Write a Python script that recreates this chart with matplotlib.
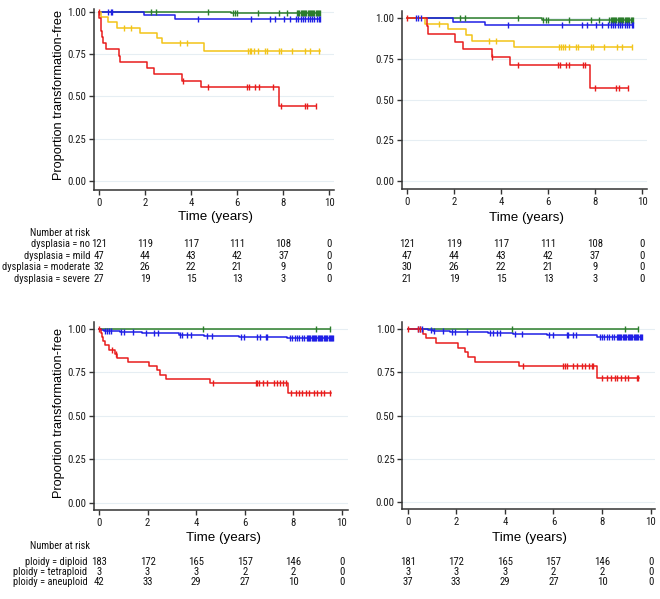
import numpy as np
import matplotlib
matplotlib.use("Agg")
import matplotlib.pyplot as plt
from matplotlib.transforms import blended_transform_factory
from matplotlib import font_manager
from matplotlib.font_manager import FontProperties

W, H = 660, 599
REG = ['Liberation Sans', 'DejaVu Sans']

# ---------------- data ----------------
risk_times = [0, 2, 4, 6, 8, 10]

# dysplasia, full cohort (top-left)
tl_no_ev = [5.75]; tl_no_s = [0.992]
tl_no_c = [2.24, 2.46, 4.73, 5.8, 5.9, 6.0, 6.9, 7.8, 8.18, 8.6, 8.65, 8.7, 8.75, 8.8, 8.85, 8.9,
           8.95, 9.0, 9.05, 9.1, 9.15, 9.2, 9.25, 9.3, 9.35, 9.4, 9.45, 9.5, 9.55, 9.6]
tl_no_end = 9.6
tl_mild_ev = [1.95, 3.3]; tl_mild_s = [0.979, 0.957]
tl_mild_c = [0.39, 0.5, 0.58, 4.31, 6.58, 7.42, 7.64, 8.03, 8.3, 8.55, 8.65, 8.75, 8.85, 8.95,
             9.05, 9.15, 9.25, 9.35, 9.45, 9.55, 9.6]
tl_mild_end = 9.6
tl_mod_ev = [0.1, 0.39, 0.77, 1.77, 2.5, 2.75, 4.56]
tl_mod_s = [0.969, 0.938, 0.906, 0.875, 0.844, 0.8125, 0.77]
tl_mod_c = [1.09, 1.4, 3.52, 3.83, 6.47, 6.54, 6.61, 6.73, 6.9, 7.19, 7.28, 7.81, 7.91, 8.39,
            8.93, 9.15, 9.55]
tl_mod_end = 9.58
tl_sev_ev = [0.01, 0.07, 0.1, 0.14, 0.19, 0.29, 0.87, 0.91, 2.07, 2.39, 3.62, 4.44, 7.81]
tl_sev_s = [0.963, 0.926, 0.889, 0.852, 0.815, 0.778, 0.741, 0.704, 0.667, 0.630, 0.593, 0.556, 0.444]
tl_sev_c = [0.0, 3.66, 4.75, 6.44, 6.51, 6.76, 6.96, 7.55, 7.92, 8.93, 9.02, 9.41]
tl_sev_end = 9.41

# dysplasia, subset (top-right)
tr_no_ev = [5.75]; tr_no_s = [0.992]
tr_no_c = tl_no_c
tr_no_end = 9.6
tr_mild_ev = [1.95, 3.3]; tr_mild_s = [0.979, 0.957]
tr_mild_c = [0.38, 0.48, 0.58, 4.31, 6.58, 7.42, 7.64, 8.03, 8.3, 8.55, 8.65, 8.75, 8.85, 8.95,
             9.05, 9.15, 9.25, 9.35, 9.45, 9.55, 9.6]
tr_mild_end = 9.6
tr_mod_ev = [0.76, 1.76, 2.5, 2.75, 4.53]
tr_mod_s = [0.967, 0.933, 0.9, 0.862, 0.821]
tr_mod_c = [1.37, 3.5, 3.77, 6.47, 6.54, 6.61, 6.73, 6.9, 7.19, 7.28, 7.81, 7.91, 8.39, 8.93,
            9.15, 9.55]
tr_mod_end = 9.55
tr_sev_ev = [0.85, 0.9, 2.05, 2.37, 3.6, 4.39, 7.78]
tr_sev_s = [0.952, 0.905, 0.857, 0.810, 0.762, 0.714, 0.571]
tr_sev_c = [0.0, 3.61, 4.7, 6.43, 6.5, 6.74, 6.9, 7.49, 7.56, 7.99, 8.9, 9.0, 9.38]
tr_sev_end = 9.38

# ploidy, full cohort (bottom-left)
bl_dip_ev = [0.08, 0.2, 0.85, 1.78, 3.29, 4.32, 5.76, 7.75]
bl_dip_s = [0.995, 0.989, 0.984, 0.976, 0.968, 0.96, 0.952, 0.946]
bl_dip_c = [0.25, 0.32, 0.41, 0.48, 0.92, 1.03, 1.41, 1.92, 2.26, 2.44, 3.33, 3.43, 3.64, 3.77,
            4.43, 4.66, 5.83, 5.97, 6.52, 6.61, 6.86, 6.93, 7.85, 7.95, 8.05, 8.15, 8.25, 8.35,
            8.45, 8.55, 8.6, 8.65, 8.7, 8.75, 8.8, 8.85, 8.9, 8.95, 9.0, 9.05, 9.1, 9.15, 9.2,
            9.25, 9.3, 9.35, 9.4, 9.45, 9.5, 9.55, 9.6, 9.65]
bl_dip_end = 9.65
bl_tet_ev = []; bl_tet_s = []
bl_tet_c = [4.28, 8.95, 9.5]
bl_tet_end = 9.5
bl_ane_ev = [0.07, 0.14, 0.16, 0.25, 0.41, 0.64, 0.75, 1.2, 2.06, 2.37, 2.5, 2.74, 4.57, 7.78]
bl_ane_s = [0.976, 0.952, 0.929, 0.905, 0.881, 0.857, 0.833, 0.810, 0.786, 0.762, 0.738, 0.714,
            0.690, 0.633]
bl_ane_c = [0.0, 0.55, 0.7, 4.7, 6.45, 6.52, 6.58, 6.75, 6.93, 7.2, 7.31, 7.47, 7.57, 7.68,
            7.89, 8.1, 8.23, 8.37, 8.53, 8.64, 8.85, 8.96, 9.12, 9.26, 9.5]
bl_ane_end = 9.55

# ploidy, subset (bottom-right)
br_dip_ev = [0.85, 1.06, 1.74, 3.32, 4.35, 5.72, 7.78]
br_dip_s = [0.994, 0.989, 0.983, 0.977, 0.972, 0.966, 0.956]
br_dip_c = [0.44, 0.51, 0.58, 0.95, 1.1, 1.44, 1.81, 1.95, 2.43, 3.4, 3.53, 3.66, 3.8, 4.42,
            4.69, 5.83, 5.97, 6.54, 6.61, 6.82, 6.93, 7.9, 8.0, 8.1, 8.2, 8.3, 8.4, 8.5, 8.6,
            8.65, 8.7, 8.75, 8.8, 8.85, 8.9, 8.95, 9.0, 9.05, 9.1, 9.15, 9.2, 9.25, 9.3, 9.35,
            9.4, 9.45, 9.5, 9.55, 9.6, 9.63]
br_dip_end = 9.63
br_tet_ev = []; br_tet_s = []
br_tet_c = [4.28, 8.94, 9.49]
br_tet_end = 9.49
br_ane_ev = [0.64, 0.74, 1.15, 2.09, 2.36, 2.5, 2.77, 4.58, 7.8]
br_ane_s = [0.973, 0.946, 0.919, 0.892, 0.865, 0.838, 0.811, 0.784, 0.715]
br_ane_c = [0.03, 0.44, 0.5, 4.73, 6.4, 6.47, 6.54, 6.79, 6.95, 7.16, 7.3, 7.46, 7.57, 7.64,
            7.98, 8.19, 8.35, 8.53, 8.6, 8.78, 8.94, 9.08, 9.42, 9.5]
br_ane_end = 9.53

# numbers at risk
dys_labels = ['dysplasia = no', 'dysplasia = mild', 'dysplasia = moderate', 'dysplasia = severe']
tl_risk = [[121, 119, 117, 111, 108, 0],
           [47, 44, 43, 42, 37, 0],
           [32, 26, 22, 21, 9, 0],
           [27, 19, 15, 13, 3, 0]]
tr_risk = [[121, 119, 117, 111, 108, 0],
           [47, 44, 43, 42, 37, 0],
           [30, 26, 22, 21, 9, 0],
           [21, 19, 15, 13, 3, 0]]
plo_labels = ['ploidy = diploid', 'ploidy = tetraploid', 'ploidy = aneuploid']
bl_risk = [[183, 172, 165, 157, 146, 0],
           [3, 3, 3, 2, 2, 0],
           [42, 33, 29, 27, 10, 0]]
br_risk = [[181, 172, 165, 157, 146, 0],
           [3, 3, 3, 2, 2, 0],
           [37, 33, 29, 27, 10, 0]]

GREEN = '#2b7d2b'
BLUE = '#1f1fe6'
YELLOW = '#f2c418'
RED = '#e81c1c'

# ---------------- fonts ----------------
def pick_narrow():
    prefs = ['Liberation Sans Narrow', 'Arial Narrow', 'Roboto Condensed', 'Open Sans Condensed',
             'Noto Sans Condensed', 'DejaVu Sans Condensed']
    cands = []
    for f in font_manager.fontManager.ttflist:
        st = f.stretch
        condensed = ('Narrow' in f.name or 'Condensed' in f.name or
                     (isinstance(st, str) and 'condensed' in st) or
                     (isinstance(st, (int, float)) and st < 500))
        if not condensed or f.style != 'normal':
            continue
        w = f.weight if isinstance(f.weight, (int, float)) else (400 if f.weight in ('normal', 'regular', 'book') else 700)
        if w > 500 or w < 350:
            continue
        if 'Bold' in f.fname or 'Italic' in f.fname or 'Light' in f.fname:
            continue
        rank = len(prefs)
        for i, p in enumerate(prefs):
            if p in f.name or (p.startswith(f.name) and 'ondensed' in str(st)):
                rank = i
                break
        cands.append((rank, f.fname))
    if cands:
        cands.sort()
        return FontProperties(fname=cands[0][1])
    return FontProperties(family=['Liberation Sans', 'DejaVu Sans'])


NFP = pick_narrow()

fig = plt.figure(figsize=(W / 100, H / 100), dpi=100)
_r = fig.canvas.get_renderer()


def fit_size(fp, s, target_px, maxsize):
    t = fig.text(0, 0, s, fontproperties=fp, fontsize=10)
    w = t.get_window_extent(_r).width
    t.remove()
    return min(maxsize, 10 * target_px / w)


TS = fit_size(NFP, 'dysplasia = moderate', 87, 8.6)


def nfp(size):
    p = NFP.copy()
    p.set_size(size)
    return p


def make_ax(left, top, right, bottom, xlim, ylim):
    ax = fig.add_axes([left / W, 1 - bottom / H, (right - left) / W, (bottom - top) / H])
    ax.set_xlim(*xlim)
    ax.set_ylim(*ylim)
    for s in ['top', 'right']:
        ax.spines[s].set_visible(False)
    for s in ['left', 'bottom']:
        ax.spines[s].set_color('#333333')
        ax.spines[s].set_linewidth(1.1)
    ax.set_xticks(risk_times)
    ax.set_yticks([0, 0.25, 0.5, 0.75, 1.0])
    ax.set_yticklabels(['0.00', '0.25', '0.50', '0.75', '1.00'])
    ax.tick_params(length=3.5, width=1, color='#333333', labelcolor='#1a1a1a', pad=2)
    for lab in ax.get_xticklabels() + ax.get_yticklabels():
        lab.set_fontproperties(nfp(TS * 1.04))
    for yv in [0, 0.25, 0.5, 0.75, 1.0]:
        ax.axhline(yv, color='#e6eef3', lw=0.8, zorder=0)
    return ax


def km(ax, ev, s, cens, end, color):
    xs = [0] + list(ev) + [end]
    ys = [1.0] + list(s) + [([1.0] + list(s))[-1]]
    ax.step(xs, ys, where='post', color=color, lw=1.1, zorder=3)
    levels = np.array([1.0] + list(s))
    idx = np.searchsorted(np.array(ev, dtype=float), np.array(cens, dtype=float), side='right')
    ax.plot(cens, levels[idx], ls='none', marker='|', ms=4.5, mew=1.0, color=color, zorder=4)


def risk_table(ax, rows, ys_px, labels=None, label_x=None, title_y=None):
    tr = blended_transform_factory(ax.transData, fig.transFigure)
    for r, ypx in zip(rows, ys_px):
        for t, v in zip(risk_times, r):
            ax.text(t, 1 - ypx / H, str(v), transform=tr, ha='center', va='center',
                    fontproperties=nfp(TS * 1.04), color='#111111', clip_on=False)
    if labels is not None:
        for lab, ypx in zip(labels, ys_px):
            fig.text(label_x / W, 1 - ypx / H, lab, ha='right', va='center',
                     fontproperties=nfp(TS), color='#111111')
        fig.text(30 / W, 1 - title_y / H, 'Number at risk', ha='left', va='center',
                 fontproperties=nfp(TS), color='#111111')


# top-left
ax1 = make_ax(94, 9, 334, 190, (-0.217, 10.2), (-0.053, 1.016))
km(ax1, tl_no_ev, tl_no_s, tl_no_c, tl_no_end, GREEN)
km(ax1, tl_mild_ev, tl_mild_s, tl_mild_c, tl_mild_end, BLUE)
km(ax1, tl_mod_ev, tl_mod_s, tl_mod_c, tl_mod_end, YELLOW)
km(ax1, tl_sev_ev, tl_sev_s, tl_sev_c, tl_sev_end, RED)
ax1.set_ylabel('Proportion transformation-free', fontsize=9.2, family=REG, va='center')
ax1.yaxis.set_label_coords(-0.146, 0.525)
ax1.set_xlabel('Time (years)', fontsize=9.6, family=REG, va='center')
ax1.xaxis.set_label_coords(0.506, -0.15)

# top-right
ax2 = make_ax(401.7, 10.7, 647, 189, (-0.225, 10.2), (-0.049, 1.047))
km(ax2, tr_no_ev, tr_no_s, tr_no_c, tr_no_end, GREEN)
km(ax2, tr_mild_ev, tr_mild_s, tr_mild_c, tr_mild_end, BLUE)
km(ax2, tr_mod_ev, tr_mod_s, tr_mod_c, tr_mod_end, YELLOW)
km(ax2, tr_sev_ev, tr_sev_s, tr_sev_c, tr_sev_end, RED)
ax2.set_xlabel('Time (years)', fontsize=9.6, family=REG, va='center')
ax2.xaxis.set_label_coords(0.507, -0.165)

# bottom-left
ax3 = make_ax(94, 321.7, 348, 510, (-0.206, 10.25), (-0.042, 1.042))
km(ax3, bl_tet_ev, bl_tet_s, bl_tet_c, bl_tet_end, GREEN)
km(ax3, bl_dip_ev, bl_dip_s, bl_dip_c, bl_dip_end, BLUE)
km(ax3, bl_ane_ev, bl_ane_s, bl_ane_c, bl_ane_end, RED)
ax3.set_ylabel('Proportion transformation-free', fontsize=9.2, family=REG, va='center')
ax3.yaxis.set_label_coords(-0.138, 0.515)
ax3.set_xlabel('Time (years)', fontsize=9.6, family=REG, va='center')
ax3.xaxis.set_label_coords(0.508, -0.148)

# bottom-right
ax4 = make_ax(402.3, 321.7, 655, 509.3, (-0.222, 10.18), (-0.042, 1.042))
km(ax4, br_tet_ev, br_tet_s, br_tet_c, br_tet_end, GREEN)
km(ax4, br_dip_ev, br_dip_s, br_dip_c, br_dip_end, BLUE)
km(ax4, br_ane_ev, br_ane_s, br_ane_c, br_ane_end, RED)
ax4.set_xlabel('Time (years)', fontsize=9.6, family=REG, va='center')
ax4.xaxis.set_label_coords(0.504, -0.152)

top_rows = [244, 255.7, 267, 279]
bot_rows = [561.7, 572.3, 582.3]
risk_table(ax1, tl_risk, top_rows, dys_labels, 90, 233)
risk_table(ax2, tr_risk, top_rows)
risk_table(ax3, bl_risk, bot_rows, plo_labels, 87.5, 546)
risk_table(ax4, br_risk, bot_rows)

fig.savefig('out.png', dpi=100, facecolor='white')
